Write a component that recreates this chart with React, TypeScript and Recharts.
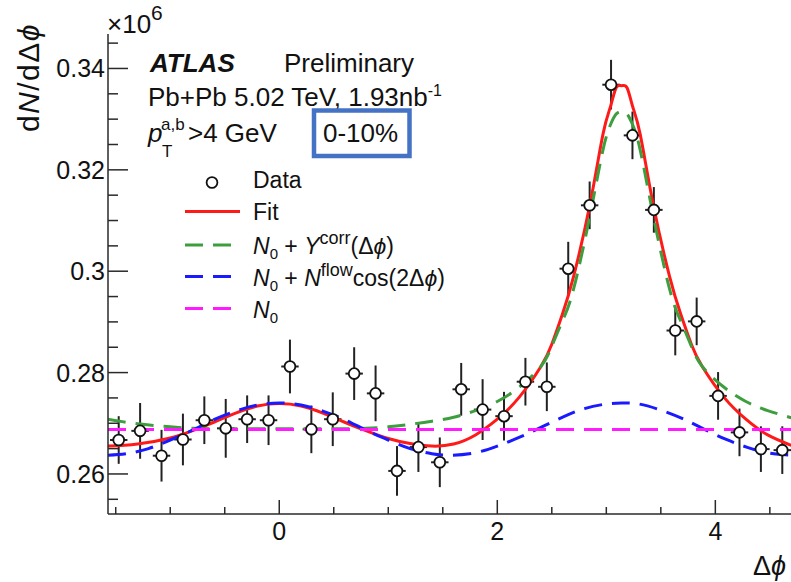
import React from "react";
import { ComposedChart, XAxis, YAxis, Scatter, Line, ErrorBar, Legend } from "recharts";

// Δφ bin centres (32 bins over -π/2 .. 3π/2) and yields (×10^6)
const BIN_X = [
  -1.4726, -1.2763, -1.0799, -0.8836, -0.6872, -0.4909, -0.2945, -0.0982,
  0.0982, 0.2945, 0.4909, 0.6872, 0.8836, 1.0799, 1.2763, 1.4726,
  1.669, 1.8653, 2.0617, 2.258, 2.4544, 2.6507, 2.8471, 3.0434,
  3.2398, 3.4361, 3.6325, 3.8288, 4.0252, 4.2215, 4.4179, 4.6142,
];
const YIELD = [
  0.2667, 0.2685, 0.2636, 0.2668, 0.2706, 0.269, 0.2708, 0.2706,
  0.2812, 0.2688, 0.2708, 0.2798, 0.2759, 0.2606, 0.2653, 0.2623,
  0.2767, 0.2727, 0.2714, 0.2782, 0.2772, 0.3005, 0.313, 0.3368,
  0.3268, 0.3121, 0.2883, 0.2901, 0.2754, 0.2682, 0.2649, 0.2647,
];
const YIELD_ERR = [
  0.0047, 0.0055, 0.0051, 0.0051, 0.0047, 0.0058, 0.0047, 0.0049,
  0.0053, 0.0047, 0.0053, 0.0052, 0.0055, 0.0049, 0.0049, 0.0049,
  0.0052, 0.006, 0.0048, 0.0047, 0.0048, 0.0053, 0.0047, 0.0049,
  0.0047, 0.0045, 0.0049, 0.0047, 0.0047, 0.0047, 0.0045, 0.0047,
];
const BIN_HALF = 0.08;

// fit and template curves, sampled by eye from the figure
const CURVE_X = [
  -1.5708, -1.3, -1.0, -0.8, -0.6, -0.4, -0.2, 0, 0.2, 0.4, 0.6, 0.8, 1.0, 1.2,
  1.4, 1.6, 1.8, 2.0, 2.2, 2.4, 2.5, 2.6, 2.7, 2.85, 2.97, 3.04, 3.09, 3.14,
  3.19, 3.24, 3.31, 3.43, 3.58, 3.68, 3.78, 3.88, 4.08, 4.28, 4.48, 4.68, 4.7124,
];
const FIT_Y = [
  0.2655, 0.2659, 0.2671, 0.2685, 0.2702, 0.272, 0.2734, 0.2739, 0.2734, 0.272, 0.2702, 0.2685, 0.267, 0.266,
  0.2655, 0.2659, 0.2677, 0.2708, 0.2751, 0.2812, 0.2856, 0.2917, 0.299, 0.3132, 0.3271, 0.3326, 0.3362, 0.3366,
  0.3362, 0.3326, 0.3271, 0.3132, 0.299, 0.2917, 0.2856, 0.2812, 0.2751, 0.2708, 0.2677, 0.2658, 0.2655,
];
const CORR_Y = [
  0.2708, 0.2699, 0.2693, 0.269, 0.2689, 0.2689, 0.2689, 0.2689, 0.2689, 0.2689, 0.2689, 0.269, 0.2693, 0.2698,
  0.2704, 0.2712, 0.2725, 0.2743, 0.2771, 0.2812, 0.2852, 0.2903, 0.2965, 0.311, 0.324, 0.329, 0.331, 0.3315,
  0.331, 0.329, 0.324, 0.311, 0.2965, 0.2903, 0.2852, 0.2812, 0.2771, 0.2743, 0.2725, 0.2712, 0.271,
];
const FLOW_X = [
  -1.5708, -1.4, -1.2, -1.0, -0.8, -0.6, -0.4, -0.2, 0, 0.2, 0.4, 0.6, 0.8, 1.0, 1.2, 1.4, 1.5708,
  1.8, 2.0, 2.2, 2.4, 2.6, 2.8, 3.0, 3.1416, 3.3, 3.5, 3.7, 3.9, 4.1, 4.3, 4.5, 4.7124,
];
const FLOW_Y = [
  0.2637, 0.264, 0.265, 0.2667, 0.2686, 0.2707, 0.2724, 0.2736, 0.274, 0.2736, 0.2724, 0.2707, 0.2686, 0.2667, 0.265, 0.264, 0.2637,
  0.2642, 0.2655, 0.2672, 0.2692, 0.2712, 0.2729, 0.2738, 0.274, 0.2738, 0.2726, 0.2709, 0.2688, 0.2668, 0.2652, 0.2641, 0.2637,
];
const N0_X = [-1.5708, 4.7124];
const N0_Y = [0.26875, 0.26875];

const X_DOMAIN = [-1.5708, 4.7124];
const Y_DOMAIN = [0.2521, 0.3468];
const X_TICKS = [-1.5, -1, -0.5, 0, 0.5, 1, 1.5, 2, 2.5, 3, 3.5, 4, 4.5];
const X_LABELS = [0, 2, 4];
const Y_TICKS = [0.255, 0.26, 0.265, 0.27, 0.275, 0.28, 0.285, 0.29, 0.295, 0.3, 0.305, 0.31, 0.315, 0.32, 0.325, 0.33, 0.335, 0.34, 0.345];
const Y_LABEL_VALUES = [0.26, 0.28, 0.3, 0.32, 0.34];
const Y_LABEL_TEXT = ["0.26", "0.28", "0.3", "0.32", "0.34"];

const PLOT_L = 108;
const PLOT_T = 34;
const PLOT_R = 793;
const PLOT_B = 514;
const AXIS = "#2a2a2a";
const FONT = "'Liberation Sans', Arial, Helvetica, sans-serif";
const RED = "#ff1a1a";
const GREEN = "#3d9e3d";
const BLUE = "#1a1aff";
const MAGENTA = "#ff1aff";
const DASH = "18 10";

const points = BIN_X.map((x, i) => ({ x, y: YIELD[i], ey: YIELD_ERR[i], ex: BIN_HALF }));
const toXY = (xs: number[], ys: number[]) => xs.map((x, i) => ({ x, y: ys[i] }));
const fitData = toXY(CURVE_X, FIT_Y);
const corrData = toXY(CURVE_X, CORR_Y);
const flowData = toXY(FLOW_X, FLOW_Y);
const n0Data = toXY(N0_X, N0_Y);

const near = (a: number, b: number) => Math.abs(a - b) < 1e-6;

function XTick(props: any) {
  const { x, payload, side } = props;
  const v = payload.value;
  const major = X_LABELS.some((l) => near(l, v));
  const len = major ? 14 : 7;
  if (side === "top") {
    return <line x1={x} x2={x} y1={PLOT_T} y2={PLOT_T + len} stroke={AXIS} strokeWidth={1.5} />;
  }
  return (
    <g>
      <line x1={x} x2={x} y1={PLOT_B} y2={PLOT_B - len} stroke={AXIS} strokeWidth={1.5} />
      {major && (
        <text x={x} y={540} textAnchor="middle" fontFamily={FONT} fontSize={25} fill="#111">
          {v}
        </text>
      )}
    </g>
  );
}

function YTick(props: any) {
  const { y, payload, side } = props;
  const v = payload.value;
  const idx = Y_LABEL_VALUES.findIndex((l) => near(l, v));
  const len = idx >= 0 ? 20 : 10;
  if (side === "right") {
    return <line x1={PLOT_R - len} x2={PLOT_R} y1={y} y2={y} stroke={AXIS} strokeWidth={1.5} />;
  }
  return (
    <g>
      <line x1={PLOT_L} x2={PLOT_L + len} y1={y} y2={y} stroke={AXIS} strokeWidth={1.5} />
      {idx >= 0 && (
        <text x={PLOT_L - 3} y={y + 9} textAnchor="end" fontFamily={FONT} fontSize={25} fill="#111">
          {Y_LABEL_TEXT[idx]}
        </text>
      )}
    </g>
  );
}

function Marker(props: any) {
  const { cx, cy } = props;
  return <circle cx={cx} cy={cy} r={5.4} fill="#fff" stroke="#111" strokeWidth={1.8} />;
}

function FigureLegend() {
  const tx = 253;
  const lx1 = 185;
  const lx2 = 240;
  const ts = { fontFamily: FONT, fontSize: 23, fill: "#111", whiteSpace: "pre" as const };
  return (
    <svg width={791} height={582} style={{ overflow: "visible", display: "block" }}>
      <circle cx={212} cy={182.5} r={5.4} fill="#fff" stroke="#111" strokeWidth={1.8} />
      <text x={tx} y={188} style={ts}>Data</text>

      <line x1={lx1} x2={lx2} y1={211.5} y2={211.5} stroke={RED} strokeWidth={3} />
      <text x={tx} y={219.5} style={ts}>Fit</text>

      <line x1={lx1} x2={lx2} y1={245} y2={245} stroke={GREEN} strokeWidth={3} strokeDasharray={DASH} />
      <text x={tx} y={254} style={ts}>
        <tspan fontStyle="italic">N</tspan>
        <tspan fontSize={15} dy={5}>0</tspan>
        <tspan dy={-5}>{" + "}</tspan>
        <tspan fontStyle="italic">Y</tspan>
        <tspan fontSize={18} dy={-10}>corr</tspan>
        <tspan dy={10}>(Δ</tspan>
        <tspan fontStyle="italic">ϕ</tspan>
        <tspan>)</tspan>
      </text>

      <line x1={lx1} x2={lx2} y1={276.5} y2={276.5} stroke={BLUE} strokeWidth={3} strokeDasharray={DASH} />
      <text x={tx} y={286} style={ts}>
        <tspan fontStyle="italic">N</tspan>
        <tspan fontSize={15} dy={5}>0</tspan>
        <tspan dy={-5}>{" + "}</tspan>
        <tspan fontStyle="italic">N</tspan>
        <tspan fontSize={18} dy={-10}>flow</tspan>
        <tspan dy={10}>cos(2Δ</tspan>
        <tspan fontStyle="italic">ϕ</tspan>
        <tspan>)</tspan>
      </text>

      <line x1={lx1} x2={lx2} y1={308.5} y2={308.5} stroke={MAGENTA} strokeWidth={3} strokeDasharray={DASH} />
      <text x={tx} y={317.5} style={ts}>
        <tspan fontStyle="italic">N</tspan>
        <tspan fontSize={15} dy={5}>0</tspan>
      </text>
    </svg>
  );
}

function Annotations() {
  const big = { fontFamily: FONT, fontSize: 26, fill: "#111" };
  return (
    <svg
      width={791}
      height={582}
      style={{ position: "absolute", left: 0, top: 0, pointerEvents: "none", overflow: "visible" }}
    >
      <text x={107} y={33} fontFamily={FONT} fontSize={26} fill="#111">
        ×10<tspan fontSize={21} dy={-13}>6</tspan>
      </text>
      <text
        transform="translate(39,23) rotate(-90)"
        textAnchor="end"
        fontFamily={FONT}
        fontSize={30}
        letterSpacing={1.5}
        fill="#111"
      >
        d<tspan fontStyle="italic">N</tspan>/dΔ<tspan fontStyle="italic">ϕ</tspan>
      </text>
      <text x={753} y={575} fontFamily={FONT} fontSize={27} fill="#111">
        Δ<tspan fontStyle="italic">ϕ</tspan>
      </text>

      <text x={150} y={72} {...big} fontWeight="bold" fontStyle="italic">ATLAS</text>
      <text x={284} y={72} {...big}>Preliminary</text>
      <text x={148} y={106} {...big}>
        Pb+Pb 5.02 TeV, 1.93nb<tspan fontSize={16} dy={-10}>-1</tspan>
      </text>
      <text x={148} y={142} {...big} fontStyle="italic">p</text>
      <text x={161} y={130} {...big} fontSize={17}>a,b</text>
      <text x={162} y={157} {...big} fontSize={17}>T</text>
      <text x={188} y={142} {...big}>{">4 GeV"}</text>

      <rect x={314} y={110.5} width={95.5} height={45.5} fill="#fff" stroke="#4472C4" strokeWidth={4.5} />
      <text x={323} y={142} {...big}>0-10%</text>
    </svg>
  );
}

export default function App() {
  const axisLine = { stroke: AXIS, strokeWidth: 1.5 };
  return (
    <div
      style={{
        position: "fixed",
        left: 0,
        top: 0,
        width: 791,
        height: 582,
        overflow: "hidden",
        background: "#fff",
      }}
    >
      <ComposedChart width={800} height={582} margin={{ top: PLOT_T, right: 7, bottom: 0, left: 0 }}>
        <XAxis
          xAxisId="b"
          dataKey="x"
          type="number"
          domain={X_DOMAIN}
          ticks={X_TICKS}
          interval={0}
          allowDataOverflow
          height={68}
          axisLine={axisLine}
          tickLine={false}
          tick={(p: any) => <XTick {...p} side="bottom" />}
        />
        <XAxis
          xAxisId="t"
          orientation="top"
          dataKey="x"
          type="number"
          domain={X_DOMAIN}
          ticks={X_TICKS}
          interval={0}
          allowDataOverflow
          height={0}
          axisLine={axisLine}
          tickLine={false}
          tick={(p: any) => <XTick {...p} side="top" />}
        />
        <YAxis
          yAxisId="l"
          dataKey="y"
          type="number"
          domain={Y_DOMAIN}
          ticks={Y_TICKS}
          interval={0}
          allowDataOverflow
          width={PLOT_L}
          axisLine={axisLine}
          tickLine={false}
          tick={(p: any) => <YTick {...p} side="left" />}
        />
        <YAxis
          yAxisId="r"
          orientation="right"
          dataKey="y"
          type="number"
          domain={Y_DOMAIN}
          ticks={Y_TICKS}
          interval={0}
          allowDataOverflow
          width={0}
          axisLine={axisLine}
          tickLine={false}
          tick={(p: any) => <YTick {...p} side="right" />}
        />
        <Scatter
          xAxisId="b"
          yAxisId="l"
          name="Data"
          data={points}
          dataKey="y"
          shape={Marker}
          isAnimationActive={false}
        >
          <ErrorBar dataKey="ey" direction="y" width={0} stroke="#222" strokeWidth={2} />
          <ErrorBar dataKey="ex" direction="x" width={0} stroke="#222" strokeWidth={2} />
        </Scatter>
        <Line xAxisId="b" yAxisId="l" name="Fit" data={fitData} dataKey="y" type="natural"
          stroke={RED} strokeWidth={3} dot={false} activeDot={false} isAnimationActive={false} />
        <Line xAxisId="b" yAxisId="l" name="corr" data={corrData} dataKey="y" type="natural"
          stroke={GREEN} strokeWidth={3} strokeDasharray={DASH} dot={false} activeDot={false} isAnimationActive={false} />
        <Line xAxisId="b" yAxisId="l" name="flow" data={flowData} dataKey="y" type="natural"
          stroke={BLUE} strokeWidth={3} strokeDasharray={DASH} dot={false} activeDot={false} isAnimationActive={false} />
        <Line xAxisId="b" yAxisId="l" name="N0" data={n0Data} dataKey="y" type="linear"
          stroke={MAGENTA} strokeWidth={3} strokeDasharray={DASH} dot={false} activeDot={false} isAnimationActive={false} />
        <Legend
          layout="horizontal"
          align="center"
          verticalAlign="middle"
          content={() => <FigureLegend />}
          wrapperStyle={{ position: "absolute", left: 0, top: 0, width: 791, height: 582, pointerEvents: "none" }}
        />
      </ComposedChart>
      <Annotations />
    </div>
  );
}
